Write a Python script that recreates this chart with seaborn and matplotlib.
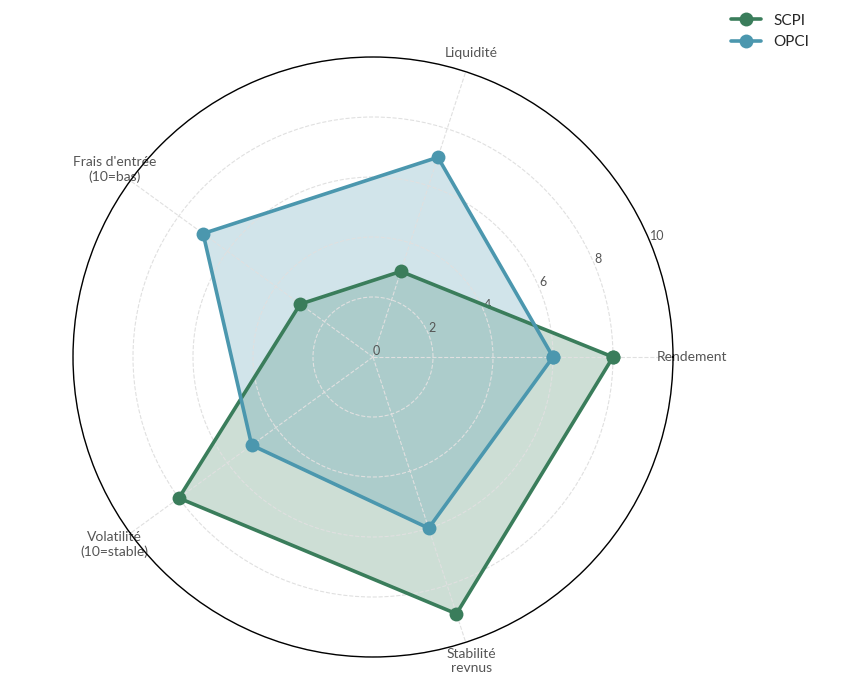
import numpy as np
import pandas as pd
import matplotlib.pyplot as plt
import seaborn as sns

# Radar data (scores out of 10)
criteres = ["Rendement", "Liquidité", "Frais d'entrée\n(10=bas)", "Volatilité\n(10=stable)", "Stabilité\nrevnus"]
scpi = [8, 3, 3, 8, 9]
opci = [6, 7, 7, 5, 6]
series = ["SCPI", "OPCI"]
couleurs = ["#3a7d5b", "#4b97ae"]

sns.set_theme(style="white")
plt.rcParams["font.family"] = ["Lato", "DejaVu Sans"]

angles = np.linspace(0, 2 * np.pi, len(criteres), endpoint=False)
rows = []
for nom, vals in zip(series, [scpi, opci]):
    # close the polygon: repeat first point at 2*pi
    for a, v in zip(list(angles) + [2 * np.pi], vals + [vals[0]]):
        rows.append({"angle": a, "score": v, "produit": nom})
df = pd.DataFrame(rows)

fig = plt.figure(figsize=(8.59, 6.79), dpi=100)
ax = fig.add_axes([73 / 859, 22 / 679, 600 / 859, 600 / 679], projection="polar")

for nom, col in zip(series, couleurs):
    d = df[df["produit"] == nom]
    sns.lineplot(data=d, x="angle", y="score", sort=False, estimator=None, ax=ax,
                 color=col, linewidth=2.6, marker="o", markersize=10,
                 markeredgewidth=0, label=nom, zorder=3)
    ax.fill(d["angle"], d["score"], color=col, alpha=0.25, zorder=2)

ax.set_ylim(0, 10)
ax.set_yticks([0, 2, 4, 6, 8, 10])
ax.set_yticklabels(["0", "2", "4", "6", "8", "10"], fontsize=9, color="#555555")
ax.set_rlabel_position(22.5)
ax.set_xticks(angles)
ax.set_xticklabels(criteres, fontsize=10, color="#555555")
ax.tick_params(axis="x", pad=1)
ax.set_xlabel("")
ax.set_ylabel("")
ax.set_axisbelow(False)
ax.grid(True, color="#e0e0e0", linestyle="--", linewidth=0.8)
ax.spines["polar"].set_color("black")
ax.spines["polar"].set_linewidth(1.0)
ax.spines["polar"].set_zorder(5)

ax.get_legend().remove()
handles, labels = ax.get_legend_handles_labels()
fig.legend(handles, labels, loc="upper right", bbox_to_anchor=(0.958, 1.0),
           frameon=False, fontsize=11)

plt.savefig("out.png", dpi=100)
plt.close()
